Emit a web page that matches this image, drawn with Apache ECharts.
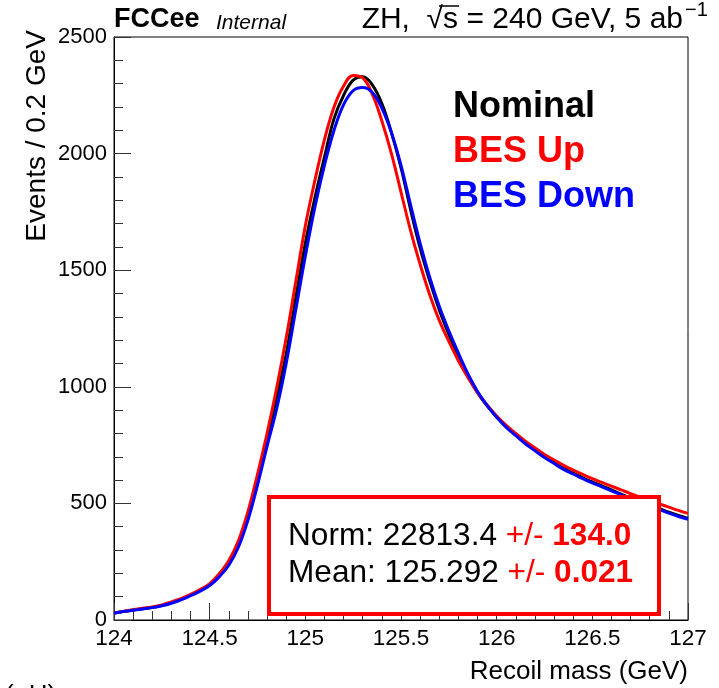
<!DOCTYPE html>
<html>
<head>
<meta charset="utf-8">
<script src="https://cdn.jsdelivr.net/npm/echarts@6/dist/echarts.min.js"></script>
<style>html,body{margin:0;padding:0;background:#fff}#c{width:719px;height:688px}</style>
</head>
<body>
<div id="c"></div>
<script>
// Recoil mass bin centres (GeV)
const mass = [124.00,124.05,124.10,124.15,124.20,124.25,124.30,124.35,124.40,124.45,124.50,124.55,124.60,124.65,124.70,124.75,124.80,124.85,124.90,124.95,125.00,125.05,125.10,125.15,125.20,125.25,125.30,125.35,125.40,125.45,125.50,125.55,125.60,125.65,125.70,125.75,125.80,125.85,125.90,125.95,126.00,126.05,126.10,126.15,126.20,126.25,126.30,126.35,126.40,126.45,126.50,126.55,126.60,126.65,126.70,126.75,126.80,126.85,126.90,126.95,127.00];
const nominal = [30,37,43,48,54,62,74,88,107,127,151,190,245,325,445,600,772,950,1140,1380,1615,1810,1985,2150,2250,2315,2330,2295,2215,2090,1940,1760,1595,1455,1330,1225,1130,1045,975,918,872,830,795,760,730,700,675,650,630,610,592,575,558,540,522,505,490,477,462,448,436];
const besUp = [30,37,44,50,56,65,78,92,110,131,156,198,255,340,465,625,800,995,1210,1450,1690,1885,2060,2200,2290,2335,2325,2255,2140,2000,1835,1670,1525,1395,1285,1195,1112,1040,975,922,875,835,800,767,738,710,686,663,643,624,606,590,574,558,542,527,512,498,484,470,457];
const besDown = [29,36,42,47,53,61,72,86,104,124,148,185,235,312,428,578,745,905,1100,1330,1560,1770,1950,2100,2210,2270,2283,2262,2195,2090,1950,1780,1615,1470,1345,1240,1145,1055,980,920,869,826,791,756,726,697,671,646,626,606,588,571,554,537,519,502,487,473,458,444,432];
const xTicks = {min:124, max:127, step:0.5};
const yTicks = {min:0, max:2500, step:500};
const seriesNames = ['Nominal','BES Up','BES Down'];
const seriesColors = ['#000000','#ff0000','#0000ff'];
const fitNorm = ['22813.4','134.0'];
const fitMean = ['125.292','0.021'];

const chart = echarts.init(document.getElementById('c'), null, {renderer:'canvas'});
const F = 'Liberation Sans, Arial, Helvetica, sans-serif';

function pairs(ys){ return mass.map((m,i)=>[m, ys[i]]); }
const allData = [nominal, besUp, besDown];

// measure text for header overline
const HF = '30px ' + F;
const cvs = document.createElement('canvas').getContext('2d');
cvs.font = HF;
const headMain = 'ZH,  \u221As = 240 GeV, 5 ab';
const headRight = 683;
const wMain = cvs.measureText(headMain).width;
const headLeft = headRight - wMain;
const wPre = cvs.measureText('ZH,  ').width;
const wRad = cvs.measureText('\u221A').width;
const wS = cvs.measureText('s').width;
const olX1 = headLeft + wPre + wRad*0.75;
const olX2 = headLeft + wPre + wRad + wS + 1;

chart.setOption({
  backgroundColor:'#ffffff',
  animation:false,
  grid:{left:114, right:31, top:37, bottom:68, show:true, borderColor:'#000', borderWidth:1, containLabel:false, outerBoundsMode:'none'},
  xAxis:{
    type:'value', min:xTicks.min, max:xTicks.max, interval:xTicks.step,
    axisLine:{show:true, onZero:false, lineStyle:{color:'#000', width:1}},
    axisTick:{show:true, inside:true, length:17, lineStyle:{color:'#333'}},
    minorTick:{show:true, splitNumber:5, length:9, lineStyle:{color:'#333'}},
    splitLine:{show:false},
    axisLabel:{color:'#000', fontSize:22.5, fontFamily:F, margin:7, formatter:v=>String(+v.toFixed(1)), showMinLabel:true, showMaxLabel:true}
  },
  yAxis:{
    type:'value', min:yTicks.min, max:yTicks.max, interval:yTicks.step,
    axisLine:{show:true, onZero:false, lineStyle:{color:'#000', width:1}},
    axisTick:{show:true, inside:true, length:17, lineStyle:{color:'#333'}},
    minorTick:{show:true, splitNumber:5, length:9, lineStyle:{color:'#333'}},
    splitLine:{show:false},
    axisLabel:{color:'#000', fontSize:22, fontFamily:F, margin:7, formatter:v=>String(v), showMinLabel:true, showMaxLabel:true}
  },
  series: allData.map((d,i)=>({
    name:seriesNames[i], type:'line', data:pairs(d), smooth:0.4, showSymbol:false, symbol:'none',
    lineStyle:{color:seriesColors[i], width:3}, z:2+i
  })),
  graphic:[
    {type:'text', left:114, top:6, style:{text:'FCCee', font:'bold 27px '+F, fill:'#000'}},
    {type:'text', left:216, top:13, style:{text:'Internal', font:'italic 21px '+F, fill:'#000'}},
    {type:'text', x:headRight, y:20, style:{text:headMain, font:HF, fill:'#000', textAlign:'right', textVerticalAlign:'middle'}},
    {type:'line', shape:{x1:olX1, y1:6, x2:olX2, y2:6}, style:{stroke:'#000', lineWidth:1.5}},
    {type:'text', x:685, y:10, style:{text:'\u22121', font:'20px '+F, fill:'#000', textAlign:'left', textVerticalAlign:'middle'}},
    {type:'text', x:37, y:30, rotation:Math.PI/2, style:{text:'Events / 0.2 GeV', font:'28px '+F, fill:'#000', textAlign:'right', textVerticalAlign:'middle'}},
    {type:'text', x:688, y:672, style:{text:'Recoil mass (GeV)', font:'26px '+F, fill:'#000', textAlign:'right', textVerticalAlign:'middle'}},
    {type:'text', x:5, y:683, style:{text:'(\u03BCH)', font:'26px '+F, fill:'#000', textAlign:'left', textVerticalAlign:'top'}},
    {type:'text', x:453, y:107, style:{text:seriesNames[0], font:'bold 36px '+F, fill:seriesColors[0], textVerticalAlign:'middle'}},
    {type:'text', x:453, y:152, style:{text:seriesNames[1], font:'bold 36px '+F, fill:seriesColors[1], textVerticalAlign:'middle'}},
    {type:'text', x:453, y:197, style:{text:seriesNames[2], font:'bold 36px '+F, fill:seriesColors[2], textVerticalAlign:'middle'}},
    {type:'rect', shape:{x:269, y:497, width:390, height:117}, style:{fill:'#fff', stroke:'#ff0000', lineWidth:4}, z:10},
    {type:'text', x:288, y:536, z:11, style:{
      text:'{k|Norm: '+fitNorm[0]+' }{r|+/- }{b|'+fitNorm[1]+'}',
      textVerticalAlign:'middle',
      rich:{k:{font:'31.6px '+F, fill:'#000'}, r:{font:'31.6px '+F, fill:'#ff0000'}, b:{font:'bold 31.6px '+F, fill:'#ff0000'}}
    }},
    {type:'text', x:288, y:573, z:11, style:{
      text:'{k|Mean: '+fitMean[0]+' }{r|+/- }{b|'+fitMean[1]+'}',
      textVerticalAlign:'middle',
      rich:{k:{font:'31.6px '+F, fill:'#000'}, r:{font:'31.6px '+F, fill:'#ff0000'}, b:{font:'bold 31.6px '+F, fill:'#ff0000'}}
    }}
  ]
});
</script>
</body>
</html>
